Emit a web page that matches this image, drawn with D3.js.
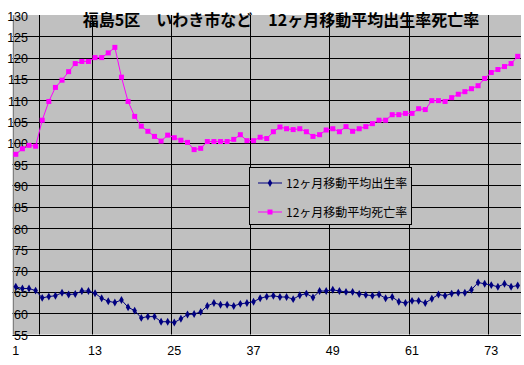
<!DOCTYPE html>
<html><head><meta charset="utf-8">
<script src="https://cdn.jsdelivr.net/npm/d3@7"></script>
<style>
html,body{margin:0;padding:0;background:#fff;}
svg{display:block;}
text{font-family:"Liberation Sans",Arial,sans-serif;}
</style></head>
<body><svg id="c" width="524" height="365"></svg>
<script>
const title = "福島5区　いわき市など　12ヶ月移動平均出生率死亡率";
const seriesNames = ["12ヶ月移動平均出生率", "12ヶ月移動平均死亡率"];
const categories = d3.range(1, 78);
const xTickLabels = [1, 13, 25, 37, 49, 61, 73];
const xGridCats = [5, 13, 25, 37, 49, 61, 73];
const yTicks = [55, 60, 65, 70, 75, 80, 85, 90, 95, 100, 105, 110, 115, 120, 125, 130];
const birth = [66.2,65.8,65.8,65.3,63.6,63.9,64.1,64.8,64.4,64.5,
  65.2,65.2,64.7,63.5,62.8,62.5,63.1,61.4,60.6,58.9,
  59.2,59.2,58.0,58.0,57.8,58.7,59.7,59.8,60.3,61.7,
  62.4,62.0,62.0,61.7,62.2,62.4,62.7,63.5,63.9,64.1,
  63.8,63.8,63.3,64.2,64.6,63.7,65.2,65.2,65.5,65.2,
  65.0,65.0,64.5,64.3,64.1,64.4,63.5,63.8,62.7,62.4,
  62.9,62.9,62.4,63.4,64.4,64.1,64.6,64.8,64.8,65.5,
  67.2,66.9,66.6,66.2,66.9,66.2,66.5];
const death = [97.3,98.6,99.4,99.2,105.3,109.7,113.0,114.7,116.7,118.6,
  119.1,119.1,120.0,120.0,121.1,122.4,115.4,109.7,106.2,103.9,
  102.7,101.5,100.4,101.8,101.2,100.6,100.1,98.4,98.7,100.3,
  100.3,100.3,100.3,100.8,101.9,100.5,100.5,101.3,101.0,102.6,
  103.7,103.3,103.1,103.3,102.6,101.5,101.9,103.0,103.3,102.6,
  103.8,102.7,103.3,103.8,104.5,105.3,105.3,106.6,106.6,106.9,
  106.9,108.0,107.8,109.9,109.9,109.7,110.6,111.4,112.0,112.7,
  113.4,115.1,116.5,117.2,117.9,118.6,120.3];

const svg = d3.select("#c");
const L = 12.5, R = 521, T = 15, B = 334.5;
const x = d3.scaleBand().domain(categories).range([L, R]).paddingInner(0).paddingOuter(0);
const y = d3.scaleLinear().domain([55, 130]).range([B, T]);
const cx = c => x(c) + x.bandwidth() / 2;

// plot background
svg.append("rect").attr("x", L).attr("y", T).attr("width", R - L).attr("height", B - T).attr("fill", "#c0c0c0");

// horizontal gridlines
svg.append("g").selectAll("line").data(yTicks.filter(v => v < 130)).join("line")
  .attr("x1", L).attr("x2", R)
  .attr("y1", d => Math.round(y(d)) + 0.5).attr("y2", d => Math.round(y(d)) + 0.5)
  .attr("stroke", "#000").attr("stroke-width", 1);
// vertical gridlines
svg.append("g").selectAll("line").data(xGridCats).join("line")
  .attr("x1", d => Math.round(x(d)) + 0.5).attr("x2", d => Math.round(x(d)) + 0.5)
  .attr("y1", T).attr("y2", B)
  .attr("stroke", "#000").attr("stroke-width", 1);
// y axis line
svg.append("line").attr("x1", Math.round(L) + 0.5).attr("x2", Math.round(L) + 0.5)
  .attr("y1", T).attr("y2", B).attr("stroke", "#808080");

// y axis labels
const yAxis = svg.append("g").attr("transform", "translate(29,0)")
  .call(d3.axisLeft(y).tickValues(yTicks).tickSize(0).tickPadding(1).tickFormat(d3.format("d")));
yAxis.select(".domain").remove();
yAxis.selectAll("text").attr("font-size", 12.5).attr("fill", "#000").attr("dy", "0.4em")
  .style("font-family", "'Liberation Sans', Arial, sans-serif");

// x axis labels
const xAxis = svg.append("g").attr("transform", `translate(0,${B})`)
  .call(d3.axisBottom(x).tickValues(xTickLabels).tickSize(0).tickPadding(12));
xAxis.select(".domain").remove();
xAxis.selectAll("text").attr("font-size", 12.5).attr("fill", "#000")
  .style("font-family", "'Liberation Sans', Arial, sans-serif");

// series
const line = d3.line().x((d, i) => cx(categories[i])).y(d => y(d));
svg.append("path").datum(birth).attr("d", line).attr("fill", "none").attr("stroke", "#000080").attr("stroke-width", 1);
svg.append("path").datum(death).attr("d", line).attr("fill", "none").attr("stroke", "#ff00ff").attr("stroke-width", 1);
const diamond = d3.symbol().type(d3.symbolDiamond).size(18);
svg.append("g").selectAll("path").data(birth).join("path")
  .attr("transform", (d, i) => `translate(${cx(categories[i])},${y(d)})`)
  .attr("d", diamond).attr("fill", "#000080");
svg.append("g").selectAll("rect").data(death).join("rect")
  .attr("x", (d, i) => cx(categories[i]) - 2.5).attr("y", d => y(d) - 2.5)
  .attr("width", 5).attr("height", 5).attr("fill", "#ff00ff");

// legend
const lg = svg.append("g");
lg.append("rect").attr("x", 249.5).attr("y", 167.5).attr("width", 162).attr("height", 57)
  .attr("fill", "#c0c0c0").attr("stroke", "#000").attr("stroke-width", 1);
const legendItems = [
  {name: seriesNames[0], color: "#000080", marker: "diamond", y: 183},
  {name: seriesNames[1], color: "#ff00ff", marker: "square", y: 212}
];
legendItems.forEach(it => {
  lg.append("line").attr("x1", 258).attr("x2", 282).attr("y1", it.y).attr("y2", it.y)
    .attr("stroke", it.color).attr("stroke-width", 1);
  if (it.marker === "diamond") {
    lg.append("path").attr("transform", `translate(270,${it.y})`).attr("d", diamond).attr("fill", it.color);
  } else {
    lg.append("rect").attr("x", 267.5).attr("y", it.y - 2.5).attr("width", 5).attr("height", 5).attr("fill", it.color);
  }
  lg.append("text").attr("x", 286).attr("y", it.y + 4.5).attr("font-size", 12)
    .style("font-family", "'Noto Sans CJK JP', sans-serif").attr("fill", "#000").text(it.name);
});

// title
svg.append("text").attr("x", 281).attr("y", 26).attr("text-anchor", "middle")
  .attr("font-size", 16).attr("font-weight", "bold")
  .style("font-family", "'Noto Sans CJK JP', sans-serif").attr("fill", "#000").text(title);
</script></body></html>
